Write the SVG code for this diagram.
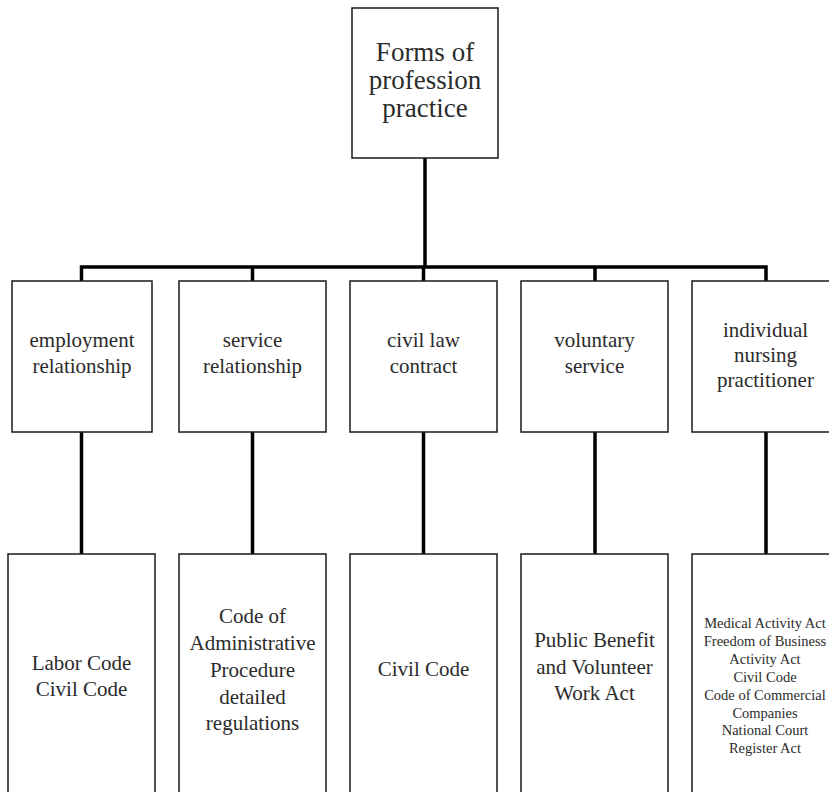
<svg xmlns="http://www.w3.org/2000/svg" width="829" height="792" viewBox="0 0 829 792">
<style>
.box{fill:#fff;stroke:#1a1a1a;stroke-width:1.5}
.t{font-family:"Liberation Serif","DejaVu Serif",serif;font-size:21px;fill:#2b2b2b;text-anchor:middle}
.top{font-size:27px}
.small{font-size:14.5px}
.c{fill:none;stroke:#000;stroke-width:3.5;stroke-linejoin:miter}
</style>
<rect width="829" height="792" fill="#fff"/>
<g id="connectors">
<path class="c" d="M425 158 V267"/>
<path class="c" d="M81.5 281 V267 H766 V281"/>
<path class="c" d="M252.5 267 V281 M423.5 267 V281 M595 267 V281"/>
<path class="c" d="M81.5 432 V554 M252.5 432 V554 M423.5 432 V554 M595 432 V554 M766 432 V554"/>
</g>
<g id="root">
<rect class="box" x="352" y="8" width="146" height="150"/>
<text class="t top" x="425"><tspan x="425" y="61">Forms of</tspan><tspan x="425" y="89">profession</tspan><tspan x="425" y="117">practice</tspan></text>
</g>
<g id="employment">
<rect class="box" x="12" y="281" width="140" height="151"/>
<text class="t"><tspan x="82" y="347">employment</tspan><tspan x="82" y="373">relationship</tspan></text>
</g>
<g id="service">
<rect class="box" x="179" y="281" width="147" height="151"/>
<text class="t"><tspan x="252.5" y="347">service</tspan><tspan x="252.5" y="373">relationship</tspan></text>
</g>
<g id="civil-law">
<rect class="box" x="350" y="281" width="147" height="151"/>
<text class="t"><tspan x="423.5" y="347">civil law</tspan><tspan x="423.5" y="373">contract</tspan></text>
</g>
<g id="voluntary">
<rect class="box" x="521" y="281" width="147" height="151"/>
<text class="t"><tspan x="594.5" y="347">voluntary</tspan><tspan x="594.5" y="373">service</tspan></text>
</g>
<g id="individual">
<rect class="box" x="692" y="281" width="147" height="151"/>
<text class="t"><tspan x="765.5" y="337">individual</tspan><tspan x="765.5" y="362">nursing</tspan><tspan x="765.5" y="387">practitioner</tspan></text>
</g>
<g id="labor">
<rect class="box" x="8" y="554" width="147" height="260"/>
<text class="t"><tspan x="81.5" y="670">Labor Code</tspan><tspan x="81.5" y="696">Civil Code</tspan></text>
</g>
<g id="admin">
<rect class="box" x="179" y="554" width="147" height="260"/>
<text class="t"><tspan x="252.5" y="623">Code of</tspan><tspan x="252.5" y="650">Administrative</tspan><tspan x="252.5" y="677">Procedure</tspan><tspan x="252.5" y="704">detailed</tspan><tspan x="252.5" y="730">regulations</tspan></text>
</g>
<g id="civil-code">
<rect class="box" x="350" y="554" width="147" height="260"/>
<text class="t" x="423.5" y="676">Civil Code</text>
</g>
<g id="volunteer-act">
<rect class="box" x="521" y="554" width="147" height="260"/>
<text class="t"><tspan x="594.5" y="647">Public Benefit</tspan><tspan x="594.5" y="674">and Volunteer</tspan><tspan x="594.5" y="700">Work Act</tspan></text>
</g>
<g id="acts">
<rect class="box" x="692" y="554" width="147" height="260"/>
<text class="t small"><tspan x="765" y="628">Medical Activity Act</tspan><tspan x="765" y="646">Freedom of Business</tspan><tspan x="765" y="664">Activity Act</tspan><tspan x="765" y="682">Civil Code</tspan><tspan x="765" y="699.5">Code of Commercial</tspan><tspan x="765" y="717.5">Companies</tspan><tspan x="765" y="735">National Court</tspan><tspan x="765" y="753">Register Act</tspan></text>
</g>
</svg>
